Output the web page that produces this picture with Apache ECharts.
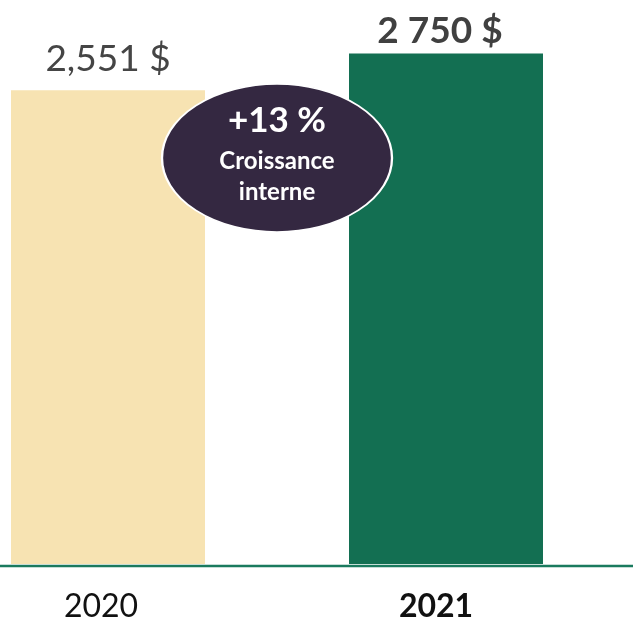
<!DOCTYPE html>
<html><head><meta charset="utf-8">
<script src="https://cdn.jsdelivr.net/npm/echarts@6/dist/echarts.min.js"></script>
<style>html,body{margin:0;padding:0;background:#fff;}#c{width:633px;height:621px;}</style>
</head><body><div id="c"></div>
<script>
const categories = ['2020', '2021'];
const values = [2551, 2750];
const valueLabels = ['2,551 $', '2 750 $'];
const growthText = ['+13 %', 'Croissance', 'interne'];

const FONT = 'Lato, "Open Sans", sans-serif';
const chart = echarts.init(document.getElementById('c'), null, {renderer: 'canvas'});
const barColors = ['#F7E3B2', '#136F52'];
const labelStyles = [
  {color: '#454545', fontWeight: 'normal', offset: [0, -5]},
  {color: '#404040', fontWeight: 'bold', offset: [-6, 4]}
];
chart.setOption({
  animation: false,
  grid: {left: -61, right: 18, top: 7, bottom: 57, containLabel: false, outerBoundsMode: 'none'},
  xAxis: {
    type: 'category', data: categories,
    axisLine: {show: false}, axisTick: {show: false},
    axisLabel: {
      margin: 27,
      formatter: function (v) { return v === '2021' ? '{b|' + v + '}' : '{n|' + v + '}'; },
      rich: {
        n: {fontSize: 32, fontFamily: FONT, color: '#111', padding: [0, 14, 0, 0]},
        b: {fontSize: 32, fontFamily: FONT, color: '#111', fontWeight: 'bold', padding: [0, 20, 0, 0]}
      }
    }
  },
  yAxis: {type: 'value', min: 0, max: 3000, show: false, splitLine: {show: false}},
  series: [{
    type: 'bar', barWidth: 194,
    data: values.map(function (v, i) {
      return {
        value: v,
        itemStyle: {color: barColors[i]},
        label: {
          show: true, position: 'top', distance: 8,
          formatter: valueLabels[i],
          fontSize: 37, fontFamily: FONT,
          color: labelStyles[i].color, fontWeight: labelStyles[i].fontWeight,
          offset: labelStyles[i].offset
        }
      };
    })
  }]
});

const p0 = chart.convertToPixel({gridIndex: 0}, [0, 0]);
const p1 = chart.convertToPixel({gridIndex: 0}, [1, 0]);
const y0 = p0[1];
const cx = (p0[0] + p1[0]) / 2;
chart.setOption({
  graphic: [
    {type: 'line', shape: {x1: 0, y1: y0 + 2, x2: 633, y2: y0 + 2}, style: {stroke: '#1A7A5E', lineWidth: 2.5}},
    {type: 'circle', x: cx, y: 158, scaleX: 115 / 74, shape: {cx: 0, cy: 0, r: 74},
      style: {fill: '#342841', stroke: '#ffffff', lineWidth: 1.5}, z: 10},
    {type: 'text', x: cx, y: 121, z: 11, style: {text: growthText[0], fill: '#fff', font: 'bold 35px ' + FONT, textAlign: 'center', textVerticalAlign: 'middle'}},
    {type: 'text', x: cx, y: 161, z: 11, style: {text: growthText[1], fill: '#fff', font: 'bold 24px ' + FONT, textAlign: 'center', textVerticalAlign: 'middle'}},
    {type: 'text', x: cx, y: 192, z: 11, style: {text: growthText[2], fill: '#fff', font: 'bold 24px ' + FONT, textAlign: 'center', textVerticalAlign: 'middle'}}
  ]
});
</script></body></html>
